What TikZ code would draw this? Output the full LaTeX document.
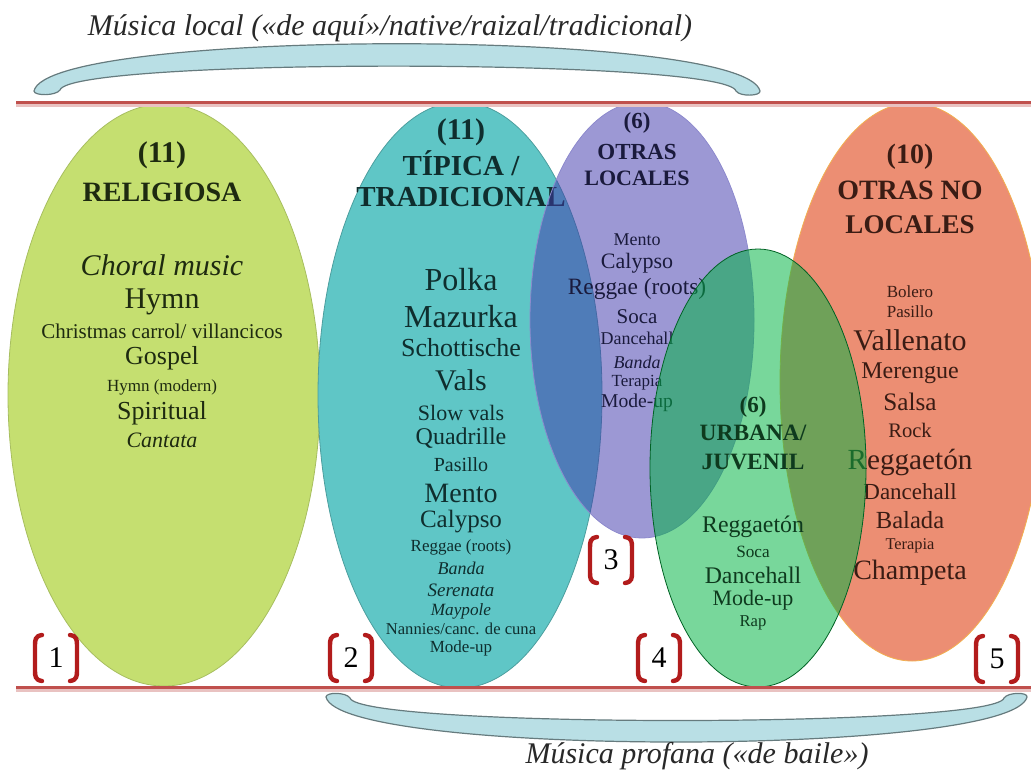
\documentclass[tikz,border=0pt]{standalone}
\usepackage{fontspec}
\setmainfont{Liberation Serif}
\usepackage{xcolor}
\usepackage{tikz}
\definecolor{linered}{RGB}{192,80,77}
\definecolor{relgreen}{RGB}{197,223,112}
\definecolor{tipteal}{RGB}{95,198,198}
\definecolor{locpurple}{RGB}{65,58,172}
\definecolor{urbgreen}{RGB}{0,179,66}
\definecolor{nolsalmon}{RGB}{236,142,115}
\definecolor{bannerblue}{RGB}{185,223,229}
\definecolor{brkred}{RGB}{178,28,28}
\definecolor{relink}{RGB}{30,42,16}
\definecolor{tipink}{RGB}{15,46,46}
\definecolor{locink}{RGB}{26,26,60}
\definecolor{urbink}{RGB}{14,58,30}
\definecolor{nolink}{RGB}{58,28,20}
\definecolor{bannerink}{RGB}{40,40,40}

\newcommand{\sz}[1]{\fontsize{#1}{#1}\selectfont}
\newcommand{\numbrk}[4]{%
  \begin{scope}[shift={(#2,#3)}]
    \node[digit] (#1) at (0,0) {#4};
    \draw[brk] (-14,-23) .. controls (-21,-22) and (-21,-18) .. (-21,-12) -- (-21,12) .. controls (-21,18) and (-21,22) .. (-14,23);
    \draw[brk] (14,-23) .. controls (21,-22) and (21,-18) .. (21,-12) -- (21,12) .. controls (21,18) and (21,22) .. (14,23);
  \end{scope}}

\begin{document}
\begin{tikzpicture}[x=0.5pt,y=-0.5pt]
    \tikzstyle{txt}=[inner sep=0pt]
    \tikzstyle{t1}=[txt,text=relink]
    \tikzstyle{t2}=[txt,text=tipink]
    \tikzstyle{t3}=[txt,text=locink]
    \tikzstyle{t4}=[txt,text=urbink]
    \tikzstyle{t5}=[txt,text=nolink]
    \tikzstyle{blob}=[line width=0.4pt]
    \tikzstyle{rule}=[draw=linered,line width=1.5pt]
    \tikzstyle{banner}=[fill=bannerblue,draw=bannerblue!55!black,line width=0.6pt]
    \tikzstyle{brk}=[draw=brkred,line width=2.2pt,line cap=round]
    \tikzstyle{digit}=[txt,font=\sz{15}]

    \useasboundingbox (0,0) rectangle (1031,771);
    \clip (0,0) rectangle (1031,771);

    % (1) religiosa
    \filldraw[blob,fill=relgreen,draw=relgreen!85!black] (164,395) ellipse [x radius=156, y radius=291];
    \node[t1] (1num) at (162,155) {\sz{15}\bfseries (11)};
    \node[t1] (1religiosa) at (162,192) {\sz{14}\bfseries RELIGIOSA};
    \node[t1] (1choral) at (162,265) {\sz{15}\itshape Choral music};
    \node[t1] (1hymn) at (162,302) {\sz{15}Hymn};
    \node[t1] (1carrol) at (162,331) {\sz{10.5}Christmas carrol/ villancicos};
    \node[t1] (1gospel) at (162,358) {\sz{13}Gospel};
    \node[t1] (1hymnmodern) at (162,387) {\sz{8.5}Hymn (modern)};
    \node[t1] (1spiritual) at (162,413) {\sz{13}Spiritual};
    \node[t1] (1cantata) at (162,440) {\sz{11}\itshape Cantata};

    % (2) tipica / tradicional
    \filldraw[blob,fill=tipteal,draw=tipteal!80!black] (460,395) ellipse [x radius=142, y radius=293];
    \node[t2] (2num) at (461,132) {\sz{15}\bfseries (11)};
    \node[t2] (2tipica) at (461,163) {\sz{14.5}\bfseries TÍPICA /};
    \node[t2] (2tradicional) at (461,197) {\sz{14.5}\bfseries TRADICIONAL};
    \node[t2] (2polka) at (461,280) {\sz{16}Polka};
    \node[t2] (2mazurka) at (461,317) {\sz{16}Mazurka};
    \node[t2] (2schottische) at (461,348) {\sz{13}Schottische};
    \node[t2] (2vals) at (461,380) {\sz{15}Vals};
    \node[t2] (2slowvals) at (461,413) {\sz{11}Slow vals};
    \node[t2] (2quadrille) at (461,438) {\sz{12}Quadrille};
    \node[t2] (2pasillo) at (461,465) {\sz{10}Pasillo};
    \node[t2] (2mento) at (461,493) {\sz{14}Mento};
    \node[t2] (2calypso) at (461,522) {\sz{12.5}Calypso};
    \node[t2] (2reggae) at (461,547) {\sz{8.5}Reggae (roots)};
    \node[t2] (2banda) at (461,568) {\sz{9}\itshape Banda};
    \node[t2] (2serenata) at (461,590) {\sz{9.5}\itshape Serenata};
    \node[t2] (2maypole) at (461,611) {\sz{8.6}\itshape Maypole};
    \node[t2] (2nannies) at (461,629) {\sz{8.3}Nannies/canc. de cuna};
    \node[t2] (2modeup) at (461,648) {\sz{8.5}Mode-up};

    % (3) otras locales
    \filldraw[blob,fill=locpurple,fill opacity=0.52,draw=locpurple!60] (642,320) ellipse [x radius=112, y radius=218];
    \node[t3] (3num) at (637,123) {\sz{11.5}\bfseries (6)};
    \node[t3] (3otras) at (637,152) {\sz{11.5}\bfseries OTRAS};
    \node[t3] (3locales) at (637,178) {\sz{11}\bfseries LOCALES};
    \node[t3] (3mento) at (637,240) {\sz{9}Mento};
    \node[t3] (3calypso) at (637,263) {\sz{11}Calypso};
    \node[t3] (3reggae) at (637,289) {\sz{11.7}Reggae (roots)};
    \node[t3] (3soca) at (637,317) {\sz{10.5}Soca};
    \node[t3] (3dancehall) at (637,338) {\sz{9}Dancehall};
    \node[t3] (3banda) at (637,362) {\sz{9}\itshape Banda};
    \node[t3] (3terapia) at (637,383) {\sz{8.5}Terapia};
    \node[t3] (3modeup) at (637,403) {\sz{9.8}Mode-up};

    % (5) otras no locales
    \filldraw[blob,fill=nolsalmon,draw=nolsalmon!70!yellow] (912,382) ellipse [x radius=132, y radius=279];
    \node[t5] (5num) at (910,157) {\sz{14}\bfseries (10)};
    \node[t5] (5otrasno) at (910,190) {\sz{14}\bfseries OTRAS NO};
    \node[t5] (5locales) at (910,225) {\sz{13.5}\bfseries LOCALES};
    \node[t5] (5bolero) at (910,292) {\sz{8.5}Bolero};
    \node[t5] (5pasillo) at (910,312) {\sz{8.5}Pasillo};
    \node[t5] (5vallenato) at (910,340) {\sz{15}Vallenato};
    \node[t5] (5merengue) at (910,373) {\sz{12}Merengue};
    \node[t5] (5salsa) at (910,402) {\sz{12.6}Salsa};
    \node[t5] (5rock) at (910,430) {\sz{10.3}Rock};
    \node[t5] (5reggaeton) at (910,462) {\sz{14.6}Reggaetón};
    \node[t5] (5dancehall) at (910,492) {\sz{11.5}Dancehall};
    \node[t5] (5balada) at (910,520) {\sz{12.3}Balada};
    \node[t5] (5terapia) at (910,546) {\sz{8.2}Terapia};
    \node[t5] (5champeta) at (910,573) {\sz{14}Champeta};

    % (4) urbana / juvenil, over 3 and 5
    \filldraw[blob,fill=urbgreen,fill opacity=0.53,draw=urbgreen!55!black] (758,468) ellipse [x radius=108, y radius=219];
    \node[t4] (4num) at (753,407) {\sz{11.5}\bfseries (6)};
    \node[t4] (4urbana) at (753,433) {\sz{11.7}\bfseries URBANA/};
    \node[t4] (4juvenil) at (753,462) {\sz{11.7}\bfseries JUVENIL};
    \node[t4] (4reggaeton) at (753,527) {\sz{11.9}Reggaetón};
    \node[t4] (4soca) at (753,552) {\sz{8.6}Soca};
    \node[t4] (4dancehall) at (753,575) {\sz{11.9}Dancehall};
    \node[t4] (4modeup) at (753,600) {\sz{11}Mode-up};
    \node[t4] (4rap) at (753,623) {\sz{8.3}Rap};

    % rules
    \draw[draw=linered!35,line width=1.5pt] (16,105) -- (1031,105);
    \draw[rule] (16,102) -- (1031,102);
    \draw[draw=linered!35,line width=1.5pt] (16,690) -- (1031,690);
    \draw[rule] (16,687) -- (1031,687);

    % numbers
    \numbrk{n1}{56}{658}{1}
    \numbrk{n2}{351}{658}{2}
    \numbrk{n3}{611}{560}{3}
    \numbrk{n4}{659}{658}{4}
    \numbrk{n5}{997}{659}{5}

    % banners
    \draw[banner] (34,91) .. controls (48,28) and (745,28) .. (760,91)
        .. controls (761,96) and (740,97) .. (736,91)
        .. controls (725,58) and (70,58) .. (60,90)
        .. controls (56,96) and (34,96) .. (34,91) -- cycle;
    \node[txt,text=bannerink] (localtxt) at (390,28) {\sz{15}\itshape Música local («de aquí»/native/raizal/tradicional)};

    \draw[banner] (326,697) .. controls (340,757) and (1012,757) .. (1027,697)
        .. controls (1028,692) and (1008,692) .. (1004,698)
        .. controls (995,728) and (360,728) .. (350,698)
        .. controls (346,692) and (326,692) .. (326,697) -- cycle;
    \node[txt,text=bannerink] (profanatxt) at (697,756) {\sz{15}\itshape Música profana («de baile»)};

  \end{tikzpicture}
\end{document}
